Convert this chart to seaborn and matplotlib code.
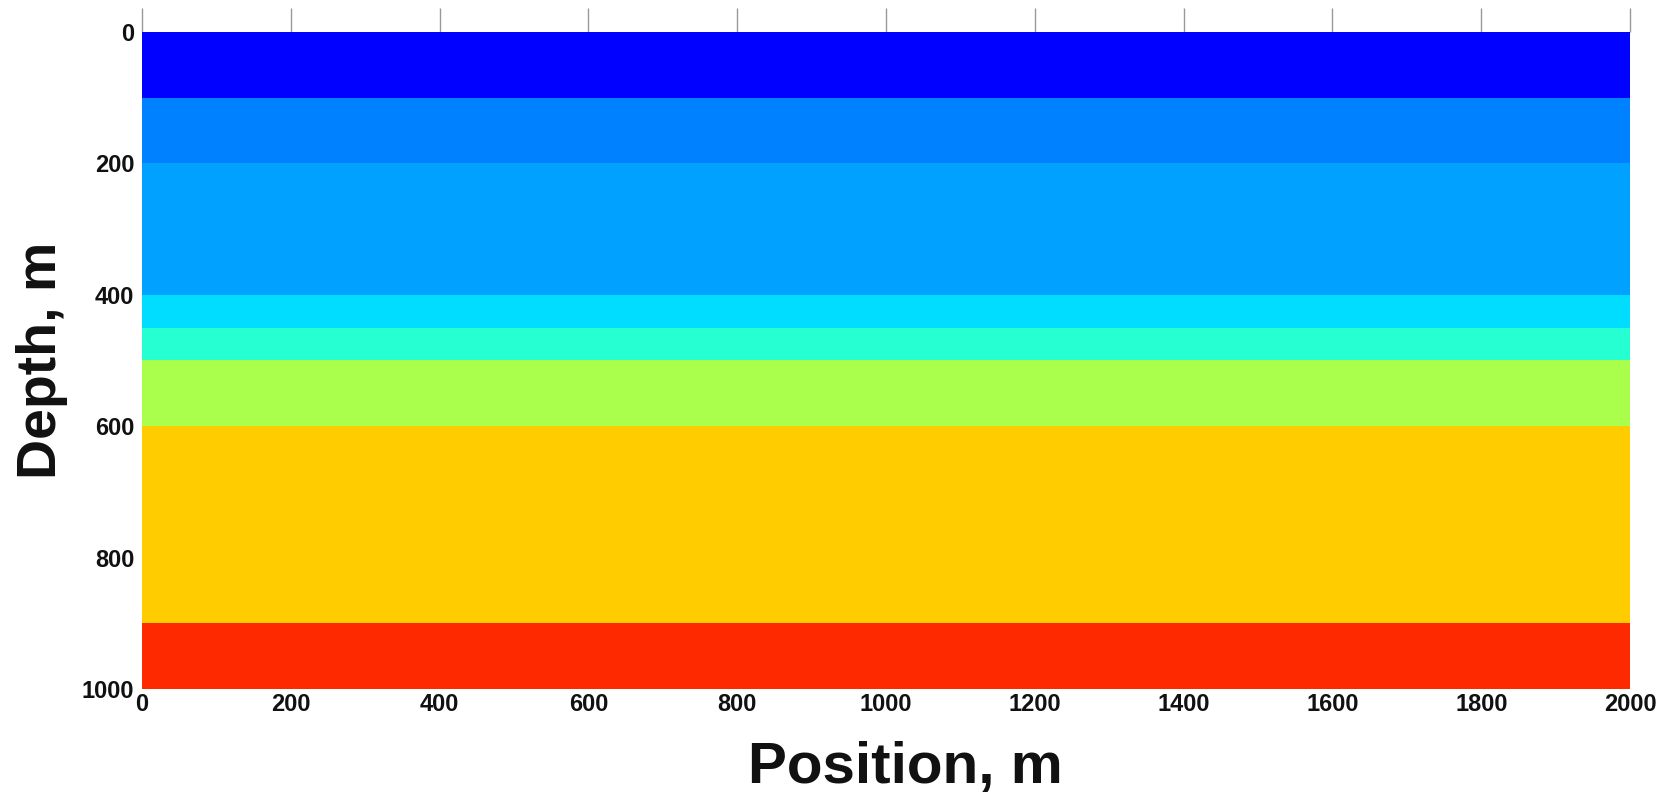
import numpy as np
import pandas as pd
import matplotlib.pyplot as plt
import seaborn as sns

# layered model: top of each layer (m) and its velocity (m/s)
layer_top = [0, 100, 200, 400, 450, 500, 600, 900]
layer_bottom = [100, 200, 400, 450, 500, 600, 900, 1000]
velocity = [1500, 2000, 2130, 2370, 2590, 3220, 3780, 4460]

x_ticks = [0, 200, 400, 600, 800, 1000, 1200, 1400, 1600, 1800, 2000]
y_ticks = [0, 200, 400, 600, 800, 1000]

dz = 50
dx = 200
depth = np.arange(0, 1000, dz)
position = np.arange(0, 2000, dx)

rows = []
for z in depth:
    for top, bot, v in zip(layer_top, layer_bottom, velocity):
        if top <= z < bot:
            rows.append([v] * len(position))
grid = pd.DataFrame(rows, index=depth, columns=position)

sns.set_style("white")
plt.rcParams['font.family'] = ['Liberation Sans', 'DejaVu Sans']

fig = plt.figure(figsize=(16.71, 7.98), dpi=100)
ax = fig.add_axes([0.085, 0.1366, 0.8905, 0.8234])
sns.heatmap(grid, cmap='jet', vmin=1000, vmax=5000, cbar=False, ax=ax,
            xticklabels=False, yticklabels=False)

ax.set_xticks([p / dx for p in x_ticks])
ax.set_xticklabels([str(p) for p in x_ticks], fontsize=17, fontweight='bold',
                   color='#111111')
ax.set_yticks([d / dz for d in y_ticks])
ax.set_yticklabels([str(d) for d in y_ticks], fontsize=17, fontweight='bold',
                   color='#111111')

ax.tick_params(axis='x', bottom=False, top=True, direction='out', length=17,
               width=1, color='#999999', pad=-14, labelbottom=True, labeltop=False)
ax.tick_params(axis='y', left=False, pad=2)

ax.set_xlabel('Position, m', fontsize=42, fontweight='bold', labelpad=18,
              color='#111111')
ax.xaxis.label.set_x(0.513)
ax.set_ylabel('Depth, m', fontsize=40, fontweight='bold', labelpad=10,
              color='#111111')

for s in ax.spines.values():
    s.set_visible(False)

fig.savefig('out.png', dpi=100)
